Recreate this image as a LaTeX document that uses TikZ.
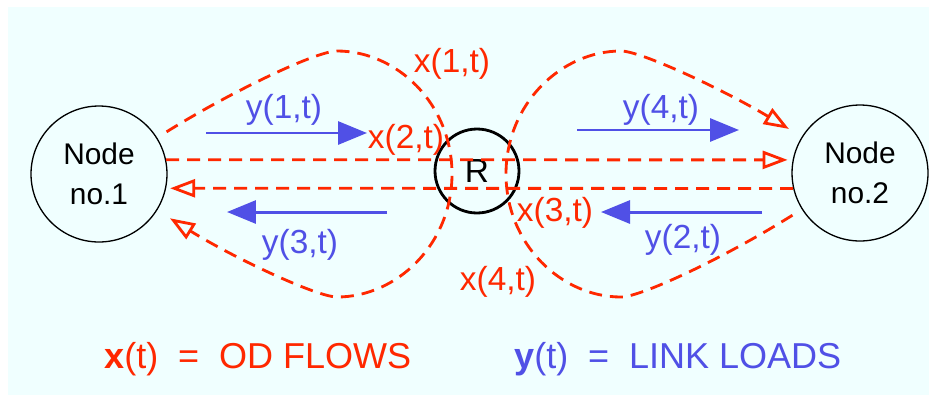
\documentclass[tikz,border=0pt]{standalone}
\usepackage{fontspec}
\setmainfont{Liberation Sans}
\usetikzlibrary{arrows.meta}

\definecolor{odred}{RGB}{255,40,0}
\definecolor{loadblue}{RGB}{80,80,230}
\definecolor{bgcyan}{RGB}{240,255,255}

\tikzset{
  endpoint/.style={circle, draw, line width=0.75pt, minimum size=2.72cm, inner sep=0pt,
    align=center, font=\fontsize{17}{22.7}\selectfont},
  router/.style={circle, draw, line width=1.6pt, minimum size=1.68cm, inner sep=0pt,
    font=\fontsize{19}{22}\selectfont},
  flow/.style={odred, line width=1.6pt, dash pattern=on 0.26cm off 0.16cm,
    -{Triangle[open, length=0.5cm, width=0.36cm]}},
  load/.style={loadblue, line width=1.7pt, -{Triangle[length=0.58cm, width=0.46cm]}},
  flowlabel/.style={odred, inner sep=0pt, font=\fontsize{19}{22}\selectfont},
  loadlabel/.style={loadblue, inner sep=0pt, font=\fontsize{19}{22}\selectfont},
  legend/.style={inner sep=0pt, anchor=base west, font=\fontsize{20.5}{24}\selectfont}
}

\begin{document}
\begin{tikzpicture}[x=0.02cm, y=0.02cm]

  % Background
  \useasboundingbox (0,0) rectangle (932,397);
  \fill[bgcyan] (8,2) rectangle (929,390);

  % End nodes and router
  \node[endpoint] (n1) at (99,223) {Node\\no.1};
  \node[endpoint] (n2) at (860,224) {Node\\no.2};
  \node[router] (r) at (477,226) {R};

  % OD flows through the router
  \draw[flow, shorten >=0.1cm] (n1.12) -- (n2.169);
  \draw[flow, shorten >=0.08cm] (n2.193) -- (n1.348);

  % OD flows looping back through the router
  \draw[flow, shorten <=0.22cm, shorten >=0.3cm]
    (n1.32) .. controls (234,307) and (317,346) .. (337,346)
    .. controls (397,346) and (452,293) .. (452,223)
    .. controls (452,153) and (397,100) .. (337,100)
    .. controls (317,100) and (234,139) .. (n1.-32);
  \draw[flow, shorten <=0.22cm, shorten >=0.3cm]
    (n2.212) .. controls (724,139) and (641,100) .. (621,100)
    .. controls (561,100) and (506,153) .. (506,223)
    .. controls (506,293) and (561,346) .. (621,346)
    .. controls (641,346) and (724,307) .. (n2.148);

  % Link loads
  \coordinate (y1s) at (206,264); \coordinate (y1e) at (367,264);
  \coordinate (y4s) at (577,267); \coordinate (y4e) at (739,267);
  \coordinate (y3s) at (387,185); \coordinate (y3e) at (227,185);
  \coordinate (y2s) at (762,185); \coordinate (y2e) at (601,185);
  \draw[load] (y1s) -- (y1e);
  \draw[load] (y4s) -- (y4e);
  \draw[load] (y3s) -- (y3e);
  \draw[load] (y2s) -- (y2e);

  % Labels
  \node[loadlabel] (ly1) at (284,287) {y(1,t)};
  \node[loadlabel] (ly4) at (661,287) {y(4,t)};
  \node[loadlabel] (ly3) at (300,152) {y(3,t)};
  \node[loadlabel] (ly2) at (683,157) {y(2,t)};
  \node[flowlabel] (lx1) at (452,333) {x(1,t)};
  \node[flowlabel] (lx2) at (406,257) {x(2,t)};
  \node[flowlabel] (lx3) at (555,184) {x(3,t)};
  \node[flowlabel] (lx4) at (498,115) {x(4,t)};

  % Legend
  \node[legend, odred] (xleg) at (104,29) {\textbf{x}(t)\hspace{0.55em}=\hspace{0.55em}OD FLOWS};
  \node[legend, loadblue] (yleg) at (514,29) {\textbf{y}(t)\hspace{0.55em}=\hspace{0.55em}LINK LOADS};

\end{tikzpicture}
\end{document}
